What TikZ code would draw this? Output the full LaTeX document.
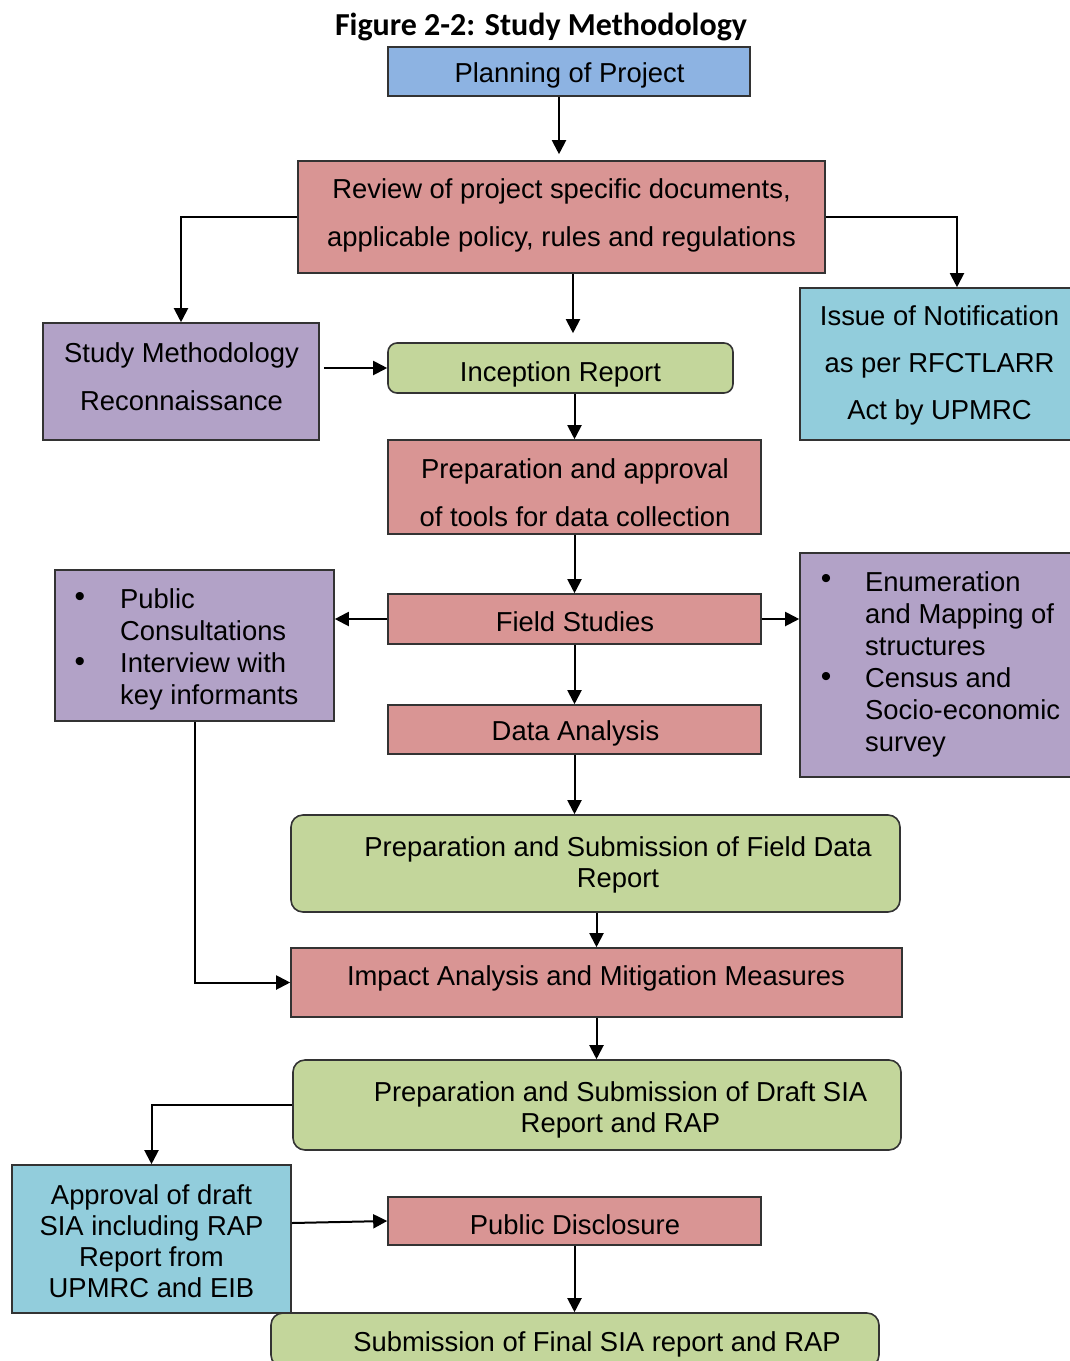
\documentclass[tikz,border=0pt]{standalone}
\usepackage{fontspec}
\setmainfont{Liberation Sans}
\newfontfamily\titlefont{Carlito}
\usetikzlibrary{arrows.meta}
\definecolor{cblue}{HTML}{8DB3E2}
\definecolor{cpink}{HTML}{D99594}
\definecolor{cpurple}{HTML}{B2A2C7}
\definecolor{clblue}{HTML}{92CDDC}
\definecolor{cgreen}{HTML}{C3D69B}
\definecolor{lineC}{HTML}{333333}
\tikzset{
  box/.style={draw=lineC, line width=1.6pt, inner sep=0pt},
  rbox/.style={box, rounded corners=12pt},
  txt/.style={inner sep=0pt, align=center, yshift=-3pt, font=\fontsize{27.4}{31}\selectfont},
  wide/.style={txt, font=\fontsize{27.4}{48}\selectfont},
  ltxt/.style={inner sep=0pt, align=left, anchor=west, yshift=-3pt, font=\fontsize{27.4}{32}\selectfont},
  bul/.style={inner sep=0pt, font=\fontsize{30}{30}\selectfont},
  arr/.style={draw=black, line width=2pt, -{Triangle[length=14pt,width=14pt]}},
}
\begin{document}
\begin{tikzpicture}[x=1pt,y=-1pt]
\useasboundingbox (0,0) rectangle (1070,1361);
\clip (0,0) rectangle (1070,1361);
% title
\node[inner sep=0pt, font=\titlefont\bfseries\fontsize{32}{36}\selectfont] (title) at (541,27) {Figure 2-2: Study Methodology};
% boxes
\node[box, fill=cblue, minimum width=362pt, minimum height=49pt] (plan) at (569,71.5) {};
\node[box, fill=cpink, minimum width=527pt, minimum height=112pt] (review) at (561.5,217) {};
\node[box, fill=cpurple, minimum width=276pt, minimum height=117pt] (study) at (181,381.5) {};
\node[box, fill=clblue, minimum width=272pt, minimum height=152pt] (issue) at (936,364) {};
\node[rbox, rounded corners=9pt, fill=cgreen, minimum width=345pt, minimum height=50pt] (incept) at (560.5,368) {};
\node[box, fill=cpink, minimum width=373pt, minimum height=94pt] (prep) at (574.5,487) {};
\node[box, fill=cpurple, minimum width=279pt, minimum height=151pt] (pub) at (194.5,645.5) {};
\node[box, fill=cpink, minimum width=373pt, minimum height=50pt] (field) at (574.5,619) {};
\node[box, fill=cpurple, minimum width=272pt, minimum height=224pt] (enum) at (936,665) {};
\node[box, fill=cpink, minimum width=373pt, minimum height=49pt] (data) at (574.5,729.5) {};
\node[rbox, fill=cgreen, minimum width=609pt, minimum height=97pt] (fdr) at (595.5,863.5) {};
\node[box, fill=cpink, minimum width=611pt, minimum height=69pt] (impact) at (596.5,982.5) {};
\node[rbox, fill=cgreen, minimum width=608pt, minimum height=90pt] (draft) at (597,1105) {};
\node[box, fill=clblue, minimum width=279pt, minimum height=148pt] (appr) at (151.5,1239) {};
\node[box, fill=cpink, minimum width=373pt, minimum height=48pt] (disc) at (574.5,1221) {};
\node[rbox, fill=cgreen, minimum width=608pt, minimum height=54pt] (final) at (575,1340) {};
% texts
\node[txt] (planT) at (569.5,72) {Planning of Project};
\node[wide] (reviewT) at (561.5,212) {Review of project specific documents,\\applicable policy, rules and regulations};
\node[wide] (studyT) at (181.5,374) {Study Methodology\\Reconnaissance};
\node[txt, font=\fontsize{27.4}{47}\selectfont] (issueT) at (939.5,362) {Issue of Notification\\as per RFCTLARR\\Act by UPMRC};
\node[txt] (inceptT) at (560.5,371) {Inception Report};
\node[wide] (prepT) at (575,490) {Preparation and approval\\of tools for data collection};
\node[ltxt] (pubT) at (120,646.5) {Public\\Consultations\\Interview with\\key informants};
\node[bul] (pubB1) at (80,599) {•};
\node[bul] (pubB2) at (80,664) {•};
\node[txt] (fieldT) at (575,619) {Field Studies};
\node[ltxt] (enumT) at (865,661) {Enumeration\\and Mapping of\\structures\\Census and\\Socio-economic\\survey};
\node[bul] (enumB1) at (826,581) {•};
\node[bul] (enumB2) at (826,679) {•};
\node[txt] (dataT) at (575.5,730) {Data Analysis};
\node[txt] (fdrT) at (618,861.5) {Preparation and Submission of Field Data\\Report};
\node[txt] (impactT) at (596,975) {Impact Analysis and Mitigation Measures};
\node[txt] (draftT) at (620.5,1106.5) {Preparation and Submission of Draft SIA\\Report and RAP};
\node[txt] (apprT) at (151.5,1238.5) {Approval of draft\\SIA including RAP\\Report from\\UPMRC and EIB};
\node[txt] (discT) at (575,1222) {Public Disclosure};
\node[txt] (finalT) at (597,1341) {Submission of Final SIA report and RAP};
% connectors
\draw[arr, shorten >=6pt] ([xshift=-10pt]plan.south) -- ([xshift=-10pt]plan.south |- review.north);
\draw[arr] (review.west) -| (study.north);
\draw[arr] (review.east) -| ([xshift=21pt]issue.north);
\draw[arr, shorten >=9pt] ([xshift=11.5pt]review.south) -- ([xshift=11.5pt]review.south |- incept.north);
\draw[arr, shorten <=4pt] (study.east |- incept.west) -- (incept.west);
\draw[arr] (incept.south -| prep.north) -- (prep.north);
\draw[arr] (prep.south) -- (field.north);
\draw[arr] (field.west) -- (field.west -| pub.east);
\draw[arr] (field.east) -- (field.east -| enum.west);
\draw[arr] (field.south) -- (data.north);
\draw[arr] (data.south) -- (data.south |- fdr.north);
\draw[arr] (pub.south) |- (impact.west);
\draw[arr] ([xshift=1pt]fdr.south) -- ([xshift=1pt]fdr.south |- impact.north);
\draw[arr] (impact.south) -- (impact.south |- draft.north);
\draw[arr] (draft.west) -| (appr.north);
\draw[arr] ([yshift=16pt]appr.east) -- (disc.west);
\draw[arr] (disc.south) -- (disc.south |- final.north);
\end{tikzpicture}
\end{document}
